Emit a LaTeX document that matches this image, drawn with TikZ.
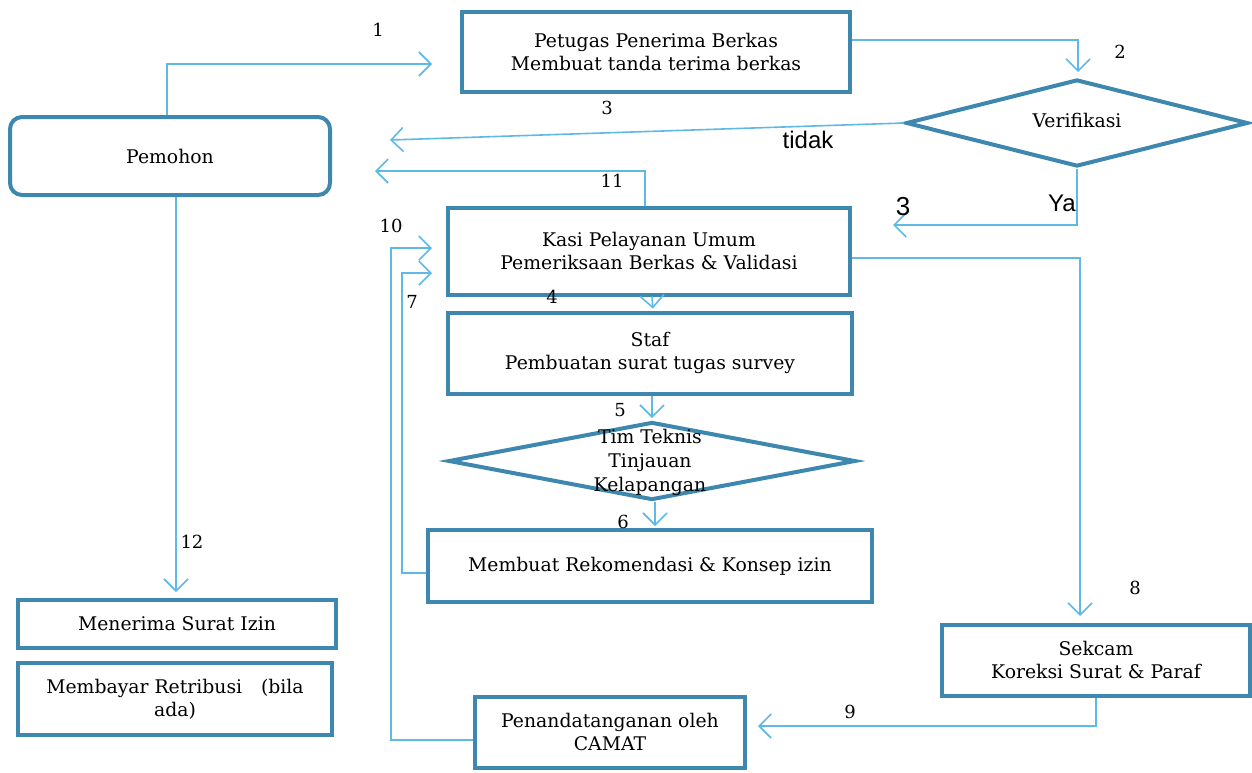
\documentclass[tikz,border=0pt]{standalone}
\usepackage{fontspec}
\setmainfont{DejaVu Serif}
\newfontfamily\labsans{Liberation Sans}
\usetikzlibrary{shapes.geometric,arrows.meta,calc}
\definecolor{boxcol}{RGB}{62,135,175}
\definecolor{linecol}{RGB}{95,185,230}
\tikzset{
  box/.style={draw=boxcol, line width=2pt, fill=white, align=center, inner sep=2pt,
    font=\fontsize{9.4}{11.5}\selectfont},
  dia/.style={diamond, draw=boxcol, line width=2pt, inner sep=0pt},
  conn/.style={draw=linecol, line width=0.8pt, -{Straight Barb[length=6pt,width=12pt,line width=0.8pt]}},
  num/.style={font=\fontsize{9}{10}\selectfont, inner sep=0pt},
  sanslab/.style={font=\labsans\fontsize{12}{13}\selectfont, inner sep=0pt},
}
\begin{document}
\begin{tikzpicture}[x=0.5pt,y=-0.5pt]
\useasboundingbox (0,0) rectangle (1252,772);
% nodes
\node[box, minimum width=194pt, minimum height=40pt] (pet) at (656,52) {Petugas Penerima Berkas\\Membuat tanda terima berkas};
\node[box, rounded corners=6pt, minimum width=160pt, minimum height=39pt] (pem) at (170,156) {Pemohon};
\node[dia, minimum width=171pt, minimum height=43.5pt] (ver) at (1077,123) {};
\node[box, draw=none, fill=none] (vert) at (1077,120) {Verifikasi};
\node[box, minimum width=201pt, minimum height=43.5pt] (kasi) at (649,251) {Kasi Pelayanan Umum\\Pemeriksaan Berkas \& Validasi};
\node[box, minimum width=202pt, minimum height=40.5pt] (staf) at (650,353) {Staf\\Pembuatan surat tugas survey};
\node[dia, minimum width=203.5pt, minimum height=39pt] (tim) at (652,461) {};
\node[box, draw=none, fill=none, inner sep=0pt, font=\fontsize{9.4}{12}\selectfont] (timt) at (650,462) {Tim Teknis\\Tinjauan\\Kelapangan};
\node[box, minimum width=222pt, minimum height=36pt] (rek) at (650,566) {Membuat Rekomendasi \& Konsep izin};
\node[box, minimum width=154pt, minimum height=35.5pt] (sek) at (1096,660) {Sekcam\\Koreksi Surat \& Paraf};
\node[box, minimum width=135pt, minimum height=35.5pt] (pen) at (610,732) {Penandatanganan oleh\\CAMAT};
\node[box, minimum width=159pt, minimum height=24pt] (ter) at (177,624) {Menerima Surat Izin};
\node[box, minimum width=157pt, minimum height=36pt] (bay) at (175,699) {Membayar Retribusi\quad (bila\\ada)};
% free ends
\coordinate (a1) at (432,64);
\coordinate (a2) at (1078,72);
\coordinate (a3) at (390,140);
\coordinate (a11) at (375,171);
\coordinate (aYa) at (893,225);
\coordinate (a10) at (432,248);
\coordinate (a7) at (432,273);
\coordinate (a8) at (1080,616);
\coordinate (a9) at (758,726);
\coordinate (a12) at (176,592);
% connectors
\draw[conn] ($(pem.north)+(-3,0)$) |- (a1);
\draw[conn] ($(pet.east)+(0,-12)$) -| (a2);
\draw[conn] (ver.west) -- (a3);
\draw[conn] ($(kasi.north)+(-4,0)$) |- (a11);
\draw[conn] (ver.south) |- (aYa);
\draw[conn] ($(pen.west)+(0,8)$) -- ++(-82,0) |- (a10);
\draw[conn] ($(rek.west)+(0,7)$) -- ++(-24,0) |- (a7);
\draw[conn, shorten >=1pt] ($(kasi.south)+(3,0)$) -- ($(staf.north)+(3,0)$);
\draw[conn, shorten >=1pt] ($(staf.south)+(2,0)$) -- (tim.north);
\draw[conn, shorten >=1pt] ($(tim.south)+(3,0)$) -- ($(rek.north)+(5,0)$);
\draw[conn] ($(kasi.east)+(0,7)$) -| (a8);
\draw[conn] (sek.south) |- (a9);
\draw[conn] (a12 |- pem.south) -- (a12);
% labels
\node[num] (n1) at (378,30) {1};
\node[num] (n2) at (1120,52) {2};
\node[num] (n3) at (607,108) {3};
\node[num] (n11) at (612,181) {11};
\node[num] (n10) at (391,226) {10};
\node[num] (n7) at (412,302) {7};
\node[num] (n4) at (552,297) {4};
\node[num] (n5) at (620,410) {5};
\node[num] (n6) at (623,522) {6};
\node[num] (n8) at (1135,588) {8};
\node[num] (n9) at (850,712) {9};
\node[num] (n12) at (192,542) {12};
\node[sanslab] (tidak) at (808,140) {tidak};
\node[sanslab] (ya) at (1062,203) {Ya};
\node[sanslab, font=\labsans\fontsize{13}{14}\selectfont] (n3b) at (903,207) {3};
\end{tikzpicture}
\end{document}
